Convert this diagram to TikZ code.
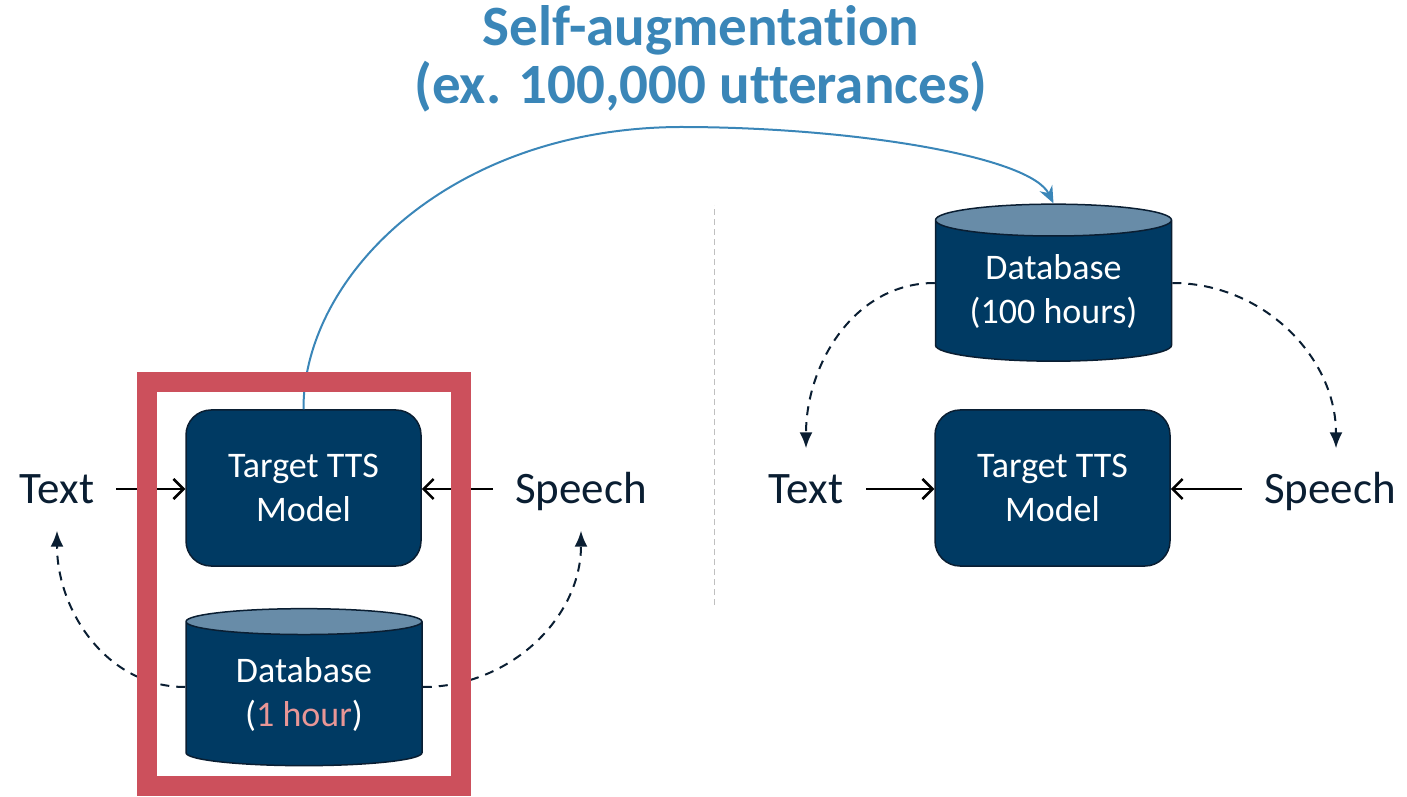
\documentclass[tikz,border=0pt]{standalone}
\usepackage{fontspec}
\setmainfont{Carlito}[Ligatures=NoCommon]
\usetikzlibrary{shapes.geometric,arrows.meta}

\definecolor{navy}{RGB}{0,58,99}
\definecolor{dbtop}{RGB}{104,140,168}
\definecolor{inkdark}{RGB}{10,30,50}
\definecolor{framered}{RGB}{204,80,92}
\definecolor{augblue}{RGB}{58,134,184}
\definecolor{hourpink}{RGB}{232,150,150}

\tikzset{
  ttsbox/.style={draw=inkdark,line width=1.5pt,fill=navy,rounded corners=25pt,
    minimum width=235pt,minimum height=156pt,text=white,align=center,
    font=\fontsize{36}{44}\selectfont},
  dbase/.style={cylinder,shape border rotate=90,shape aspect=0.19,draw=inkdark,line width=1.5pt,
    cylinder uses custom fill,cylinder body fill=navy,cylinder end fill=dbtop,
    minimum width=236pt,minimum height=157pt,inner sep=0pt,text=white,align=center,
    font=\fontsize{36}{44}\selectfont},
  lbl/.style={inner sep=0pt,text height=29pt,text depth=0pt,text=inkdark,
    font=\fontsize{45}{50}\selectfont},
  feed/.style={->,>={Straight Barb[length=10pt,width=20pt]},line width=2.5pt,black},
  back/.style={-{Latex[length=16pt,width=13pt]},line width=2pt,inkdark,dash pattern=on 9pt off 7pt}
}

\begin{document}
\begin{tikzpicture}[x=1pt,y=1pt]
  \useasboundingbox (0,0) rectangle (1407,796);

  % title
  \node[align=center,text=augblue,font=\bfseries\fontsize{57}{58}\selectfont] (title) at (701,737)
    {Self-augmentation\\(ex. 100,000 utterances)};

  % divider
  \draw[gray!50,line width=1pt,dash pattern=on 6pt off 4pt] (714,191) -- (714,591);

  % left side
  \node[ttsbox] (ltts) at (303.5,308) {Target TTS\\Model};
  \node[dbase] (ldb) at (304,102) {Database\\(\textcolor{hourpink}{1 hour})};
  \node[lbl] (ltext) at (57,307) {Text};
  \node[lbl] (lspeech) at (581,307) {Speech};

  \draw[feed,shorten <=22pt] (ltext.east) -- (ltext.east -| ltts.west);
  \draw[feed,shorten <=22pt] (lspeech.west) -- (lspeech.west -| ltts.east);
  \draw[back] ([yshift=7pt]ldb.180) to[out=180,in=-90] ([yshift=-27pt]ltext.south);
  \draw[back] ([yshift=7pt]ldb.0) to[out=0,in=-90] ([yshift=-27pt]lspeech.south);

  % right side
  \node[ttsbox] (rtts) at (1052.5,308) {Target TTS\\Model};
  \node[dbase] (rdb) at (1053.5,505) {Database\\(100 hours)};
  \node[lbl] (rtext) at (806,307) {Text};
  \node[lbl] (rspeech) at (1330,307) {Speech};

  \draw[feed,shorten <=23pt] (rtext.east) -- (rtext.east -| rtts.west);
  \draw[feed,shorten <=22pt] (rspeech.west) -- (rspeech.west -| rtts.east);
  \draw[back] ([yshift=8pt]rdb.180) to[out=180,in=90] ([yshift=26pt]rtext.north);
  \draw[back] ([yshift=8pt]rdb.0) to[out=0,in=90] ([xshift=6pt,yshift=26pt]rspeech.north);

  % self-augmentation path
  \draw[augblue,line width=2pt,-{Stealth[length=17pt,width=14pt]}] (ltts.north)
    .. controls (303,520) and (450,668) .. (680,669)
    .. controls (850,669) and (1030,640) .. (rdb.north);

  % highlight frame
  \draw[framered,line width=20pt] (147,10) rectangle (461,414);
\end{tikzpicture}
\end{document}
